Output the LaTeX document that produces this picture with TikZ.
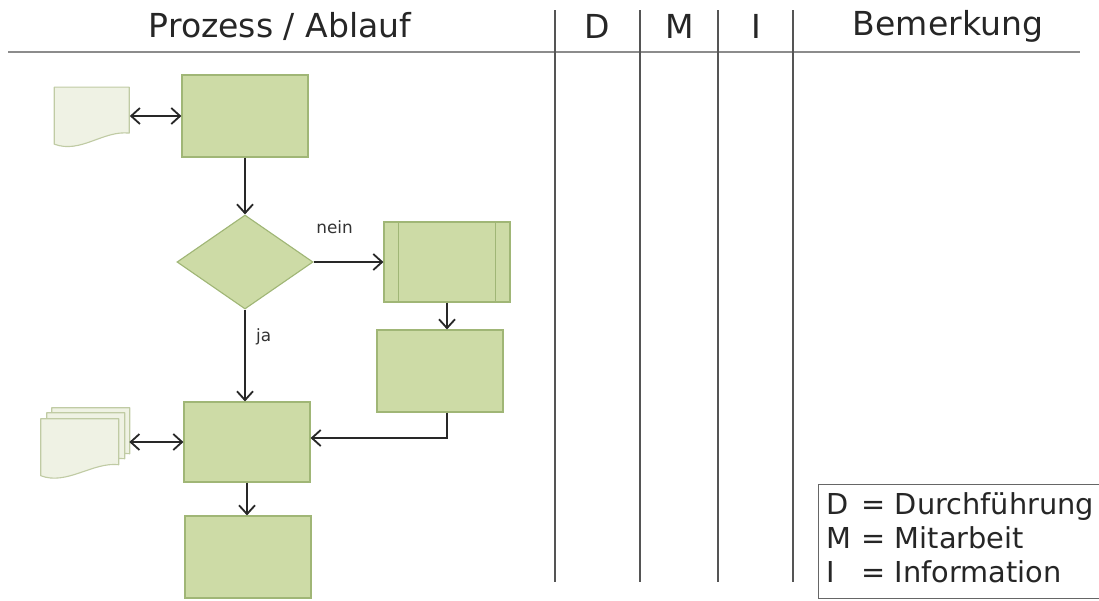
\documentclass[tikz,border=0pt]{standalone}
\usepackage{fontspec}
\setmainfont{DejaVu Sans}
\usetikzlibrary{shapes.geometric,arrows.meta,calc}

\definecolor{boxfill}{RGB}{205,219,166}
\definecolor{boxline}{RGB}{160,182,118}
\definecolor{docfill}{RGB}{239,242,228}
\definecolor{docline}{RGB}{192,203,164}
\definecolor{arrowcol}{RGB}{40,40,40}
\definecolor{rulecol}{RGB}{85,85,85}

\begin{document}
\begin{tikzpicture}[x=0.025cm,y=-0.025cm,
  >={Straight Barb[length=2.2mm,width=4mm,line width=1.3pt]},
  box node/.style={rectangle,draw=boxline,fill=boxfill,line width=0.8pt,
    minimum width=3.15cm,minimum height=2.05cm,inner sep=0pt},
  decision node/.style={diamond,draw=boxline,fill=boxfill,line width=0.8pt,
    minimum width=3.4cm,minimum height=2.35cm,inner sep=0pt},
  doc node/.style={rectangle,inner sep=0pt},
  doc/.style={draw=docline,fill=docfill,line width=0.8pt,line join=round},
  head/.style={font=\fontsize{23.5}{28}\selectfont,text=black!85},
  label/.style={font=\fontsize{12}{14}\selectfont,text=black!80},
  flow/.style={draw=arrowcol,line width=1.1pt},
  rule/.style={draw=rulecol,line width=1.1pt}]

  \useasboundingbox (0,0) rectangle (1099,600);

  % column heads
  \node[head] (hproc) at (280,26) {Prozess / Ablauf};
  \node[head] (hd) at (597,26) {D};
  \node[head] (hm) at (680,26) {M};
  \node[head] (hi) at (756,26) {I};
  \node[head] (hrem) at (948,26) {Bemerkung};
  \draw[draw=black!45,line width=2pt] (8,52) -- (1080,52);
  \foreach \x in {555,640,718,793}
    \draw[rule] (\x,10) -- (\x,582);

  % flow
  \node[box node] (b1) at (245,116) {};
  \node[decision node] (dec) at (245,262) {};
  \node[box node,minimum height=2cm] (sp) at (447,262) {};
  \node[box node] (b3) at (440,371) {};
  \node[box node,minimum height=2cm] (b4) at (247,442) {};
  \node[box node] (b5) at (248,557) {};
  \draw[boxline,line width=0.8pt] ($(sp.north west)+(15,0)$) -- ($(sp.south west)+(15,0)$);
  \draw[boxline,line width=0.8pt] ($(sp.north east)+(-15,0)$) -- ($(sp.south east)+(-15,0)$);

  % documents
  \node[doc node,minimum width=1.875cm,minimum height=1.43cm] (doc1) at (92,116) {};
  \draw[doc] (doc1.north west) -- ++(0,57) .. controls +(26,10) and +(-26,-3) .. ++(75,-11)
    -- ++(0,-46) -- cycle;
  \node[doc node,minimum width=2.2cm,minimum height=1.7cm] (docs) at (85,442) {};
  \foreach \dx/\dy in {11/0,6/5,0/11}
    \draw[doc] ($(docs.north west)+(\dx,\dy)$) -- ++(0,57)
      .. controls +(26,10) and +(-26,-3) .. ++(78,-11) -- ++(0,-46) -- cycle;

  \path[flow,every node/.style={label}]
    (doc1.east) edge[<->] (b1.west)
    (b1.south) edge[->] (dec.north)
    (dec.east) edge[->] node[above=16pt,pos=0.3]{nein} (sp.west)
    (dec.south) edge[->] node[right=4pt,pos=0.3]{ja} (dec.south |- b4.north)
    (sp.south) edge[->] (sp.south |- b3.north)
    (docs.east) edge[<->] (b4.west)
    (b4.south) edge[->] (b4.south |- b5.north);
  \draw[flow,->] (b3.south -| sp.south) |- ($(b4.east)+(0,-4)$);

  % legend
  \node[draw=black!60,line width=1pt,anchor=north west,inner xsep=0.2cm,inner ysep=0pt,
    minimum height=2.85cm,text width=7.6cm,align=left,
    font=\fontsize{20.5}{24.3}\selectfont,text=black!85]
    (legend) at (818,484)
    {\begin{tabular}{@{}l@{ = }l@{}}D & Durchführung\\ M & Mitarbeit\\ I & Information\end{tabular}};
\end{tikzpicture}
\end{document}
